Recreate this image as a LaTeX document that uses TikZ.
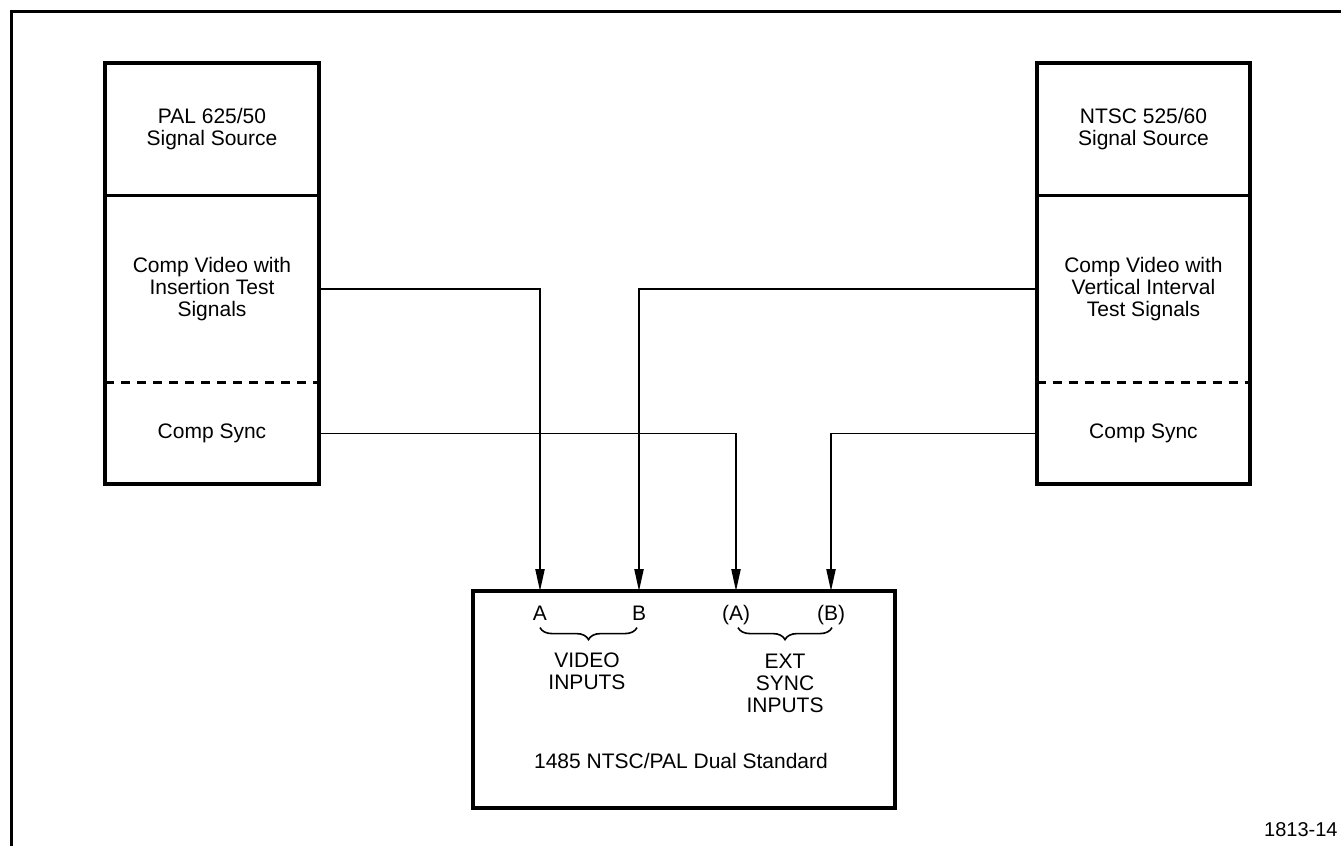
\documentclass[tikz,border=0pt]{standalone}
\usepackage{fontspec}
\setmainfont{Liberation Sans}
\usetikzlibrary{arrows.meta,decorations.pathreplacing}

\begin{document}
\begin{tikzpicture}[x=0.5pt,y=-0.5pt,>={Triangle[length=11pt,width=4.6pt]},
  font=\fontsize{10.5}{11}\selectfont,line cap=butt,
  part/.style={minimum width=106.5pt,inner sep=0pt,align=center},
  frame/.style={line width=2pt},
  divider/.style={line width=1.5pt},
  sig/.style={->,line width=0.8pt},
  lbl/.style={align=center,inner sep=0pt},
  brc/.style={line width=0.8pt,decorate,decoration={brace,mirror,amplitude=6pt}}]
\useasboundingbox (0,0) rectangle (1341,846);
\draw[line width=1.5pt] (11,846) -- (11,11) -- (1341,11);

\node[part,minimum height=66pt] (palsrc) at (212,129) {PAL 625/50\\Signal Source};
\node[part,minimum height=94pt] (palvid) at (212,289) {Comp Video with\\Insertion Test\\Signals};
\node[part,minimum height=50.5pt] (palsync) at (212,433.5) {Comp Sync};
\draw[frame] (palsrc.north west) rectangle (palsync.south east);
\draw[divider] (palsrc.south west) -- (palsrc.south east);
\draw[divider,dash pattern=on 4.5pt off 3.5pt] (palsync.north west) -- (palsync.north east);

\node[part,minimum height=66pt] (ntsrc) at (1143.5,129) {NTSC 525/60\\Signal Source};
\node[part,minimum height=94pt] (ntvid) at (1143.5,289) {Comp Video with\\Vertical Interval\\Test Signals};
\node[part,minimum height=50.5pt] (ntsync) at (1143.5,433.5) {Comp Sync};
\draw[frame] (ntsrc.north west) rectangle (ntsync.south east);
\draw[divider] (ntsrc.south west) -- (ntsrc.south east);
\draw[divider,dash pattern=on 4.5pt off 3.5pt] (ntsync.north west) -- (ntsync.north east);

\node[draw,frame,minimum width=211pt,minimum height=108.5pt] (dual) at (684,699.5) {};
\coordinate (inA) at (540,591);
\coordinate (inB) at (639,591);
\coordinate (inC) at (736,591);
\coordinate (inD) at (831,591);

\node[lbl,anchor=base] (la) at (540,620) {A};
\node[lbl,anchor=base] (lb) at (639,620) {B};
\node[lbl,anchor=base] (lc) at (736,620) {(A)};
\node[lbl,anchor=base] (ld) at (831,620) {(B)};
\draw[brc] ([yshift=-3.8pt]la.base) -- ([yshift=-3.8pt]la.base -| 637,0);
\draw[brc] ([yshift=-3.8pt]lc.base -| 738,0) -- ([yshift=-3.8pt]ld.base -| 832,0);
\node[lbl] (vidin) at (587,671) {VIDEO\\INPUTS};
\node[lbl] (syncin) at (785,683) {EXT\\SYNC\\INPUTS};
\node[lbl] (dualname) at (681,761) {1485 NTSC/PAL Dual Standard};

\draw[sig] (palvid.east) -| (inA);
\draw[sig] (palsync.east) -| (inC);
\draw[sig] (ntvid.west) -| (inB);
\draw[sig] (ntsync.west) -| (inD);

\node[lbl,anchor=east,font=\fontsize{10}{11}\selectfont] (fignum) at (1338,830) {1813-14};
\end{tikzpicture}
\end{document}
